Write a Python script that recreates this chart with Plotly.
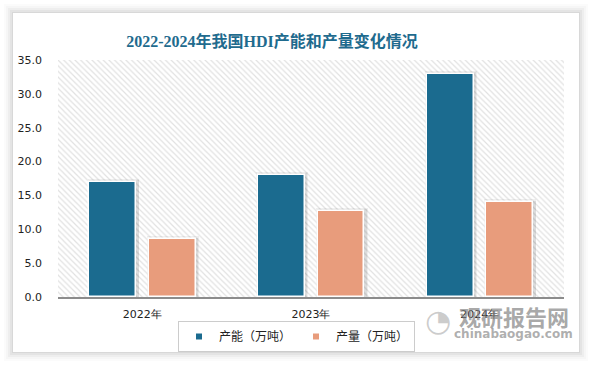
import plotly.graph_objects as go

categories = ["2022年", "2023年", "2024年"]
capacity = [17.0, 18.0, 33.0]
production = [8.5, 12.7, 14.0]
series_names = ["产能（万吨）", "产量（万吨）"]
y_ticks = [0, 5, 10, 15, 20, 25, 30, 35]
title_text = "2022-2024年我国HDI产能和产量变化情况"

W, H = 594, 366
L, R, T, B = 58, 30, 60, 69
pw, ph = W - L - R, H - T - B

def px_x(px):
    return (px - L) / pw

def px_y(py):
    return (H - B - py) / ph

C1 = "#1B6B8F"
C2 = "#E89C7C"
bw = 0.278
off1 = -0.175 - bw / 2
off2 = 0.178 - bw / 2

fig = go.Figure()

# hatched plot background on base axes
fig.add_trace(go.Bar(x=[0.5], y=[1], width=[1], xaxis="x", yaxis="y",
                     marker=dict(color="white", line=dict(width=0),
                                 pattern=dict(shape="\\", size=4, solidity=0.3,
                                              fgcolor="#c4c4c4", bgcolor="white")),
                     showlegend=False, hoverinfo="skip"))

# shadows
for vals, off in [(capacity, off1), (production, off2)]:
    for k, (dx, dw, dh, op) in enumerate([(0.004, 0.03, 0.45, 0.06), (0.006, 0.018, 0.25, 0.08)]):
        fig.add_trace(go.Bar(x=categories, y=[v + dh for v in vals], width=bw + dw,
                             offset=off - dw / 2 + dx, xaxis="x2", yaxis="y2",
                             marker=dict(color=f"rgba(0,0,0,{op})", line=dict(width=0)),
                             showlegend=False, hoverinfo="skip"))

fig.add_trace(go.Bar(x=categories, y=capacity, name=series_names[0], width=bw, offset=off1,
                     xaxis="x2", yaxis="y2", showlegend=False,
                     marker=dict(color=C1, line=dict(color="white", width=1.5))))
fig.add_trace(go.Bar(x=categories, y=production, name=series_names[1], width=bw, offset=off2,
                     xaxis="x2", yaxis="y2", showlegend=False,
                     marker=dict(color=C2, line=dict(color="white", width=1.5))))

# legend entries with small square keys
for name, col in zip(series_names, [C1, C2]):
    fig.add_trace(go.Scatter(x=[None], y=[None], name=name, mode="markers",
                             xaxis="x2", yaxis="y2",
                             marker=dict(symbol="square", size=6, color=col)))

shapes = []
# card shadow
for i, op in enumerate([0.015, 0.02, 0.03, 0.04, 0.05]):
    d = 9 - i * 2
    shapes.append(dict(type="rect", xref="paper", yref="paper", layer="below",
                       x0=px_x(13 - d), x1=px_x(579 + d), y0=px_y(352 + d), y1=px_y(13 - d),
                       fillcolor=f"rgba(0,0,0,{op})", line=dict(width=0)))
shapes.append(dict(type="rect", xref="paper", yref="paper", layer="below",
                   x0=px_x(13), x1=px_x(579), y0=px_y(352), y1=px_y(13),
                   fillcolor="white", line=dict(width=0)))

annotations = [
    dict(text="<b>观研报告网</b>", xref="paper", yref="paper", x=px_x(514), y=px_y(316),
         xanchor="center", yanchor="middle", showarrow=False,
         font=dict(family="Noto Sans CJK SC", size=22, color="rgba(130,130,130,0.7)"),
         ),
    dict(text="<b>chinabaogao.com</b>", xref="paper", yref="paper", x=px_x(513), y=px_y(334),
         xanchor="center", yanchor="middle", showarrow=False,
         font=dict(family="DejaVu Sans", size=12, color="rgba(140,140,140,0.7)")),
    dict(text="◔", xref="paper", yref="paper", x=px_x(438), y=px_y(320),
         xanchor="center", yanchor="middle", showarrow=False,
         font=dict(family="DejaVu Sans", size=30, color="rgba(170,170,170,0.6)")),
]

fig.update_layout(
    width=W, height=H,
    margin=dict(l=L, r=R, t=T, b=B),
    paper_bgcolor="white", plot_bgcolor="rgba(0,0,0,0)",
    barmode="overlay",
    title=dict(text=f"<b>{title_text}</b>", x=272 / W, xref="container", xanchor="center",
               y=1 - 41 / H, yref="container", yanchor="middle",
               font=dict(family="Liberation Serif, Noto Sans CJK SC", size=16, color="#1F6B8E")),
    xaxis=dict(range=[0, 1], visible=False, fixedrange=True),
    yaxis=dict(range=[0, 1], visible=False, fixedrange=True),
    xaxis2=dict(overlaying="x", type="category", range=[-0.5, 2.5], showgrid=False,
                showline=True, linecolor="#8c8c8c", linewidth=1.5, ticks="",
                tickfont=dict(family="DejaVu Sans", size=11, color="#222"), anchor="y2",
                ticklabelstandoff=6),
    yaxis2=dict(overlaying="y", range=[0, 35], tickvals=y_ticks, tickformat=".1f",
                showgrid=False, zeroline=False, showline=False, ticks="",
                tickfont=dict(family="DejaVu Sans", size=11, color="#222"), anchor="x2",
                side="left", ticklabelstandoff=15),
    legend=dict(orientation="h", x=px_x(296.5), xanchor="center", y=px_y(321), yanchor="top",
                bordercolor="#cccccc", borderwidth=1, bgcolor="rgba(255,255,255,0)",
                font=dict(family="Noto Sans CJK SC", size=12, color="#222"),
                itemwidth=30, tracegroupgap=0),
    shapes=shapes,
    annotations=annotations,
    bargap=0,
)

fig.write_html("out.html", config={"displayModeBar": False},
               post_script="document.body.style.margin='0';")
